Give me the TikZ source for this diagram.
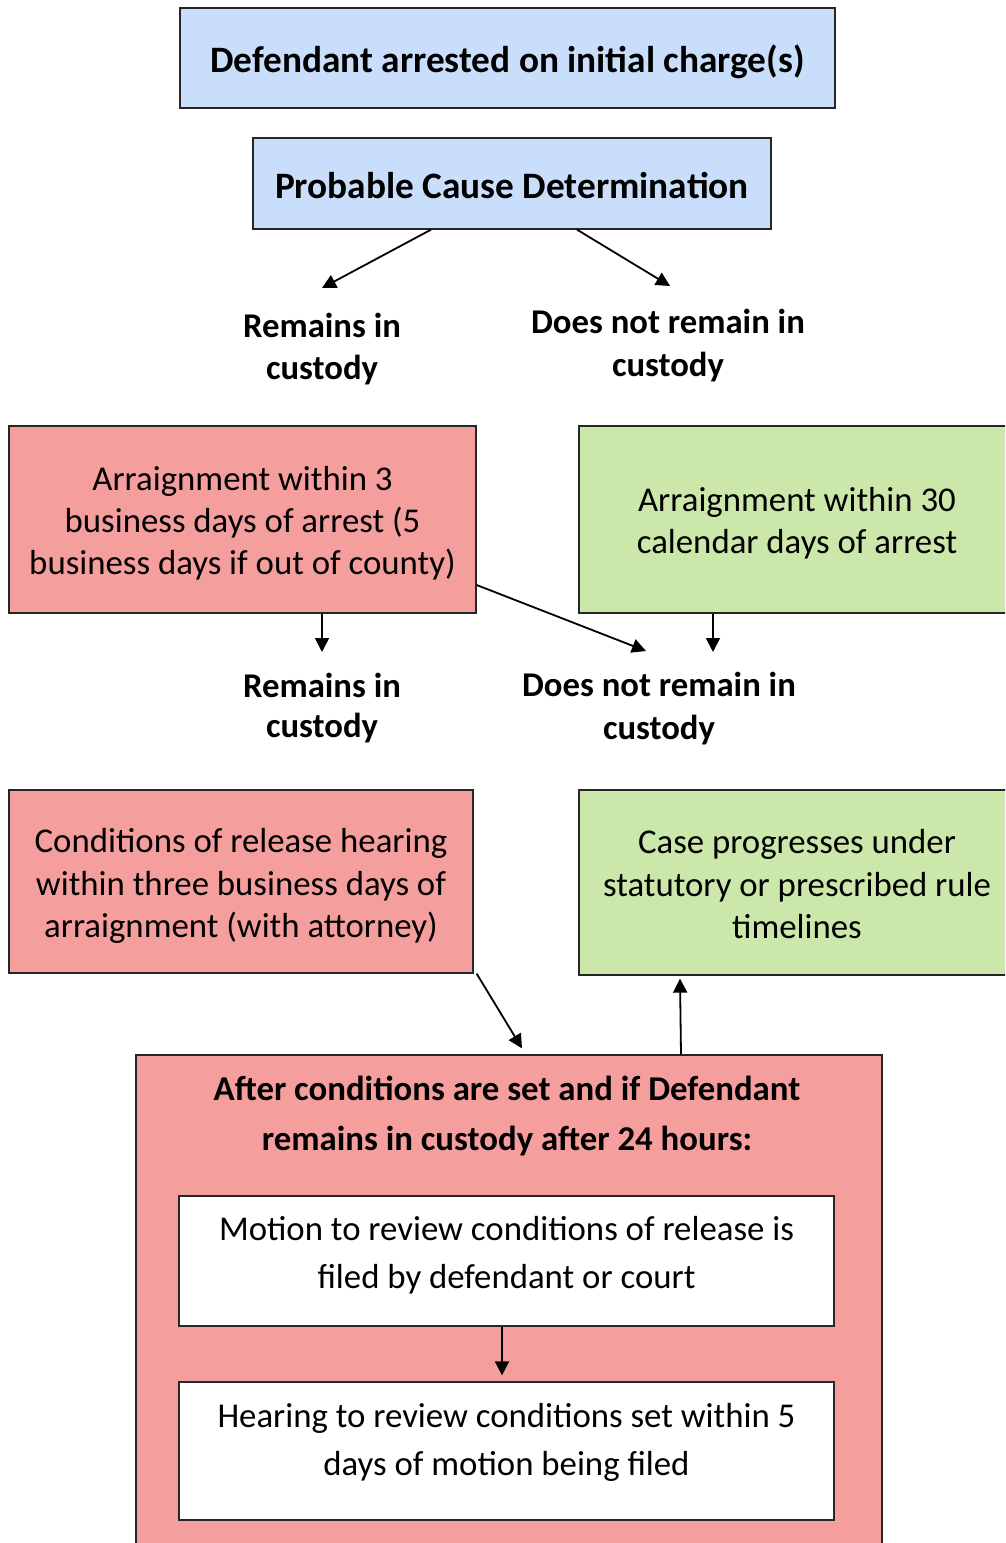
\documentclass[tikz,border=0pt]{standalone}
\usepackage{fontspec}
\setmainfont{Carlito}
\usetikzlibrary{arrows.meta}

\definecolor{hdrblue}{RGB}{201,222,251}
\definecolor{custred}{RGB}{245,158,158}
\definecolor{relgreen}{RGB}{204,231,170}

\tikzset{
  box/.style={draw=black!85, line width=1.3pt, inner sep=0pt},
  bluebox/.style={box, fill=hdrblue},
  redbox/.style={box, fill=custred},
  greenbox/.style={box, fill=relgreen},
  whitebox/.style={box, fill=white},
  txt/.style={align=center, inner sep=0pt},
  hdrfont/.style={txt, font=\fontsize{37.3}{42}\bfseries\selectfont},
  bodyfont/.style={txt, font=\fontsize{34.8}{42}\selectfont},
  outcome/.style={txt, font=\fontsize{34.7}{42}\bfseries\selectfont},
  arr/.style={line width=1.8pt, -{Triangle[length=14pt,width=14pt]}}
}

\begin{document}
\begin{tikzpicture}[x=1pt, y=-1pt]
\clip (0,0) rectangle (1005,1543);
\fill[white] (0,0) rectangle (1005,1543);

% first stage
\node[bluebox, minimum width=655pt, minimum height=100pt] (arrest) at (507.5,58) {};
\node[hdrfont] (arrestT) at (507.5,62) {Defendant arrested on initial charge(s)};
\node[bluebox, minimum width=518pt, minimum height=91pt] (pcd) at (512,183.5) {};
\node[hdrfont] (pcdT) at (512,185.5) {Probable Cause Determination};

\node[outcome] (rem1) at (322,349) {Remains in\\custody};
\node[outcome, font=\fontsize{34.7}{43}\bfseries\selectfont] (dnr1) at (668,345.5) {Does not remain in\\custody};

% arraignment
\node[redbox, minimum width=467pt, minimum height=187pt] (red1) at (242.5,519.5) {};
\node[bodyfont] (red1T) at (242.5,523.5)
  {Arraignment within 3\\business days of arrest (5\\business days if out of county)};
\node[greenbox, minimum width=436pt, minimum height=187pt] (green1) at (797,519.5) {};
\node[bodyfont] (green1T) at (797,523.5) {Arraignment within 30\\calendar days of arrest};

\node[outcome, font=\fontsize{34.7}{40}\bfseries\selectfont] (rem2) at (322,708) {Remains in\\custody};
\node[outcome, font=\fontsize{34.7}{43}\bfseries\selectfont] (dnr2) at (659,709) {Does not remain in\\custody};

% release conditions
\node[redbox, minimum width=464pt, minimum height=183pt] (red2) at (241,881.5) {};
\node[bodyfont, font=\fontsize{34.8}{42.5}\selectfont] (red2T) at (241,886)
  {Conditions of release hearing\\within three business days of\\arraignment (with attorney)};
\node[greenbox, minimum width=436pt, minimum height=185pt] (green2) at (797,882.5) {};
\node[bodyfont, font=\fontsize{34.8}{42.5}\selectfont] (green2T) at (797,884.5)
  {Case progresses under\\statutory or prescribed rule\\timelines};

% review after 24 hours
\node[redbox, minimum width=746pt, minimum height=505pt] (big) at (509,1307.5) {};
\node[txt, font=\fontsize{34.8}{50}\bfseries\selectfont] (title) at (507,1116)
  {After conditions are set and if Defendant\\remains in custody after 24 hours:};

\node[whitebox, minimum width=655pt, minimum height=130pt] (motbox) at (506.5,1261) {};
\node[txt, font=\fontsize{34.8}{48}\selectfont] (mottext) at (506.5,1255.5)
  {Motion to review conditions of release is\\filed by defendant or court};
\node[whitebox, minimum width=655pt, minimum height=138pt] (hearbox) at (506.5,1451) {};
\node[txt, font=\fontsize{34.8}{48}\selectfont] (heartext) at (506.5,1442)
  {Hearing to review conditions set within 5\\days of motion being filed};

% connectors
\draw[arr] ([xshift=-81pt]pcd.south) -- ([yshift=61pt]rem1.center);
\draw[arr] ([xshift=65pt]pcd.south) -- ([xshift=2pt,yshift=59.5pt]dnr1.center);
\draw[arr] ([xshift=79.5pt]red1.south) -- ([yshift=56pt]rem2.center);
\draw[arr] ([yshift=-65.5pt]red1.east) -- ([xshift=-13pt,yshift=58pt]dnr2.center);
\draw[arr] ([xshift=-84pt]green1.south) -- ([xshift=54pt,yshift=57pt]dnr2.center);
\draw[arr] ([xshift=3pt]red2.south east) -- ([xshift=13pt,yshift=6pt]big.north);
\draw[arr] ([xshift=172pt]big.north) -- ([xshift=-117pt,yshift=-3pt]green2.south);
\draw[arr] ([xshift=-4.5pt]motbox.south) -- ([xshift=-4.5pt,yshift=6pt]hearbox.north);
\end{tikzpicture}
\end{document}
